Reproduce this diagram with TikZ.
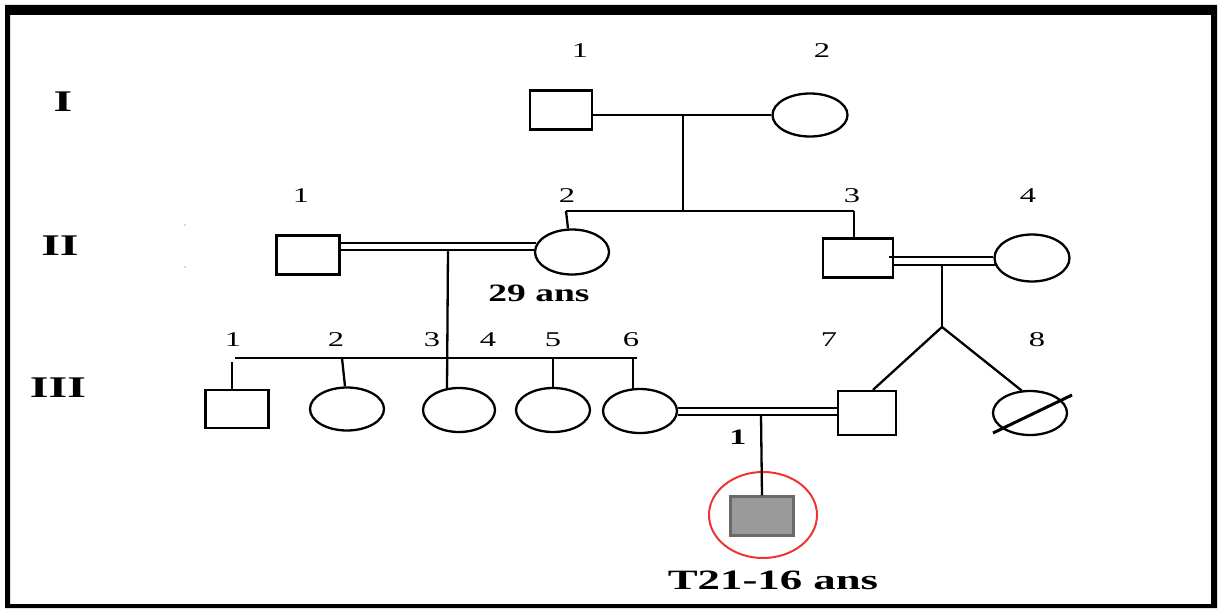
\documentclass[tikz,border=0pt]{standalone}
\usepackage{graphicx}
\usepackage{fontspec}
\setmainfont{Liberation Serif}
\usetikzlibrary{shapes.geometric}
\definecolor{affgray}{HTML}{9A9A9A}
\definecolor{affedge}{HTML}{6A6A6A}
\definecolor{probred}{HTML}{EE3535}
\newcommand\sxa[1]{\scalebox{1.55}[1]{#1}}
\newcommand\sxb[1]{\scalebox{1.6}[1]{#1}}
\begin{document}
\begin{tikzpicture}[x=1pt,y=-1pt,
  male/.style={draw, rectangle, line width=2.3pt, inner sep=0pt, minimum width=62pt, minimum height=39pt},
  female/.style={draw, ellipse, line width=2.3pt, inner sep=0pt, minimum width=74pt, minimum height=44pt},
  rel/.style={line width=2.3pt},
  num/.style={font=\fontsize{21}{21}\selectfont, inner sep=0pt},
  gen/.style={font=\fontsize{30}{30}\selectfont\bfseries, inner sep=0pt},
  bnum/.style={font=\fontsize{22}{22}\selectfont\bfseries, inner sep=0pt},
  agelab/.style={font=\fontsize{25}{25}\selectfont\bfseries, inner sep=0pt}]
\useasboundingbox (0,0) rectangle (1219,610);
% frame
\fill[black, even odd rule] (5,5) rectangle (1217,608) (10,15) rectangle (1211,604);
% generation labels
\node[gen] (gI) at (63,102) {\sxb{I}};
\node[gen] (gII) at (60,246) {\sxb{II}};
\node[gen] (gIII) at (58,388) {\sxb{III}};
% faint dots
\fill[gray!60] (185,225) circle (0.9);
\fill[gray!60] (185,267) circle (0.9);
% generation I
\node[male] (I1) at (561,110) {};
\node[female, minimum width=75pt, minimum height=43pt] (I2) at (810,115) {};
\node[num] (nI1) at (580,51) {\sxa{1}};
\node[num] (nI2) at (822,51) {\sxa{2}};
% generation II
\node[male, minimum width=63pt] (II1) at (308,255) {};
\node[female, minimum height=45pt] (II2) at (572,252) {};
\node[male, minimum width=70pt] (II3) at (858,258) {};
\node[female, minimum width=75pt, minimum height=47pt] (II4) at (1032,258) {};
\node[num] (nII1) at (301,196) {\sxa{1}};
\node[num] (nII2) at (567,196) {\sxa{2}};
\node[num] (nII3) at (852,196) {\sxa{3}};
\node[num] (nII4) at (1028,196) {\sxa{4}};
\node[agelab] (age2) at (539,293) {\scalebox{1.5}[1]{29 ans}};
% generation III
\node[male, minimum width=63pt, minimum height=38pt] (III1) at (237,409) {};
\node[female, minimum height=43pt] (III2) at (347,409) {};
\node[female, minimum width=72pt] (III3) at (459,410) {};
\node[female] (III5) at (553,410) {};
\node[female] (III6) at (640,411) {};
\node[male, minimum width=58pt, minimum height=44pt] (III7) at (867,413) {};
\node[female] (III8) at (1030,413) {};
\node[num] (nIII1) at (233,340) {\sxa{1}};
\node[num] (nIII2) at (336,340) {\sxa{2}};
\node[num] (nIII3) at (432,340) {\sxa{3}};
\node[num] (nIII4) at (488,340) {\sxa{4}};
\node[num] (nIII5) at (553,340) {\sxa{5}};
\node[num] (nIII6) at (631,340) {\sxa{6}};
\node[num] (nIII7) at (829,340) {\sxa{7}};
\node[num] (nIII8) at (1037,340) {\sxa{8}};
% generation IV
\node[male, minimum width=63pt, fill=affgray, draw=affedge] (IV1) at (762,516) {};
\node[draw=probred, ellipse, line width=2pt, minimum width=108pt, minimum height=86pt] (probe) at (763,515) {};
\node[bnum] (nIV1) at (738,437) {\sxa{1}};
\node[agelab, font=\fontsize{28}{28}\selectfont\bfseries] (age4) at (773,580) {\sxb{T21-16 ans}};
% coordinates
\coordinate (mI) at (683,116);
\coordinate (sII) at (683,211);
\coordinate (sIIa) at (566,211);
\coordinate (sIIb) at (854,211);
\coordinate (mII12) at (448,250);
\coordinate (dIII3) at (447,389);
\coordinate (sIIIa) at (235,358);
\coordinate (sIIIb) at (637,358);
\coordinate (mII34) at (942,265);
\coordinate (tw) at (942,327);
\coordinate (mIII67) at (761,415);
% generation I connectors
\draw[rel, line width=2.8pt] ([yshift=-5pt]I1.east) -- (I2.west);
\draw[rel] (mI) -- (sII);
\draw[rel] (sIIa) -- (sIIb);
\draw[rel] (sIIa) -- ([xshift=-4pt]II2.north);
\draw[rel] (sIIb) -- (sIIb |- II3.north);
% II1 = II2
\draw[rel] ([yshift=12pt]II1.east) -- ([yshift=12pt,xshift=2pt]II1.east -| II2.west);
\draw[rel] ([yshift=5pt]II1.east) -- ([yshift=5pt,xshift=0pt]II1.east -| II2.west);
\draw[rel] (mII12) -- (dIII3);
% sibship III
\draw[rel] (sIIIa) -- (sIIIb);
\draw[rel] ([yshift=-4pt]sIIIa -| 232,0) -- (232,0 |- III1.north);
\draw[rel] (sIIIa -| 342,0) -- ([xshift=-2pt]III2.north);
\draw[rel] (sIIIa -| III5.north) -- (III5.north);
\draw[rel] (sIIIa -| 633,0) -- (633,389);
% II3 = II4
\draw[rel] ([xshift=-5pt,yshift=1pt]II3.east) -- ([yshift=1pt]II3.east -| II4.west);
\draw[rel] ([yshift=-7pt]II3.east) -- ([yshift=-7pt,xshift=3pt]II3.east -| II4.west);
\draw[rel] (mII34) -- (tw);
\draw[rel] (tw) -- ([xshift=6pt]III7.north);
\draw[rel] (tw) -- ([xshift=-8pt,yshift=-1pt]III8.north);
\draw[line width=3pt] ([xshift=-37pt,yshift=-20pt]III8.center) -- ([xshift=42pt,yshift=18pt]III8.center);
% III6 = III7
\draw[rel] ([yshift=3pt]III6.east) -- ([yshift=3pt]III6.east -| III7.west);
\draw[rel] ([yshift=-4pt]III6.east) -- ([yshift=-4pt]III6.east -| III7.west);
\draw[rel] (mIII67) -- (IV1.north);
\end{tikzpicture}
\end{document}
